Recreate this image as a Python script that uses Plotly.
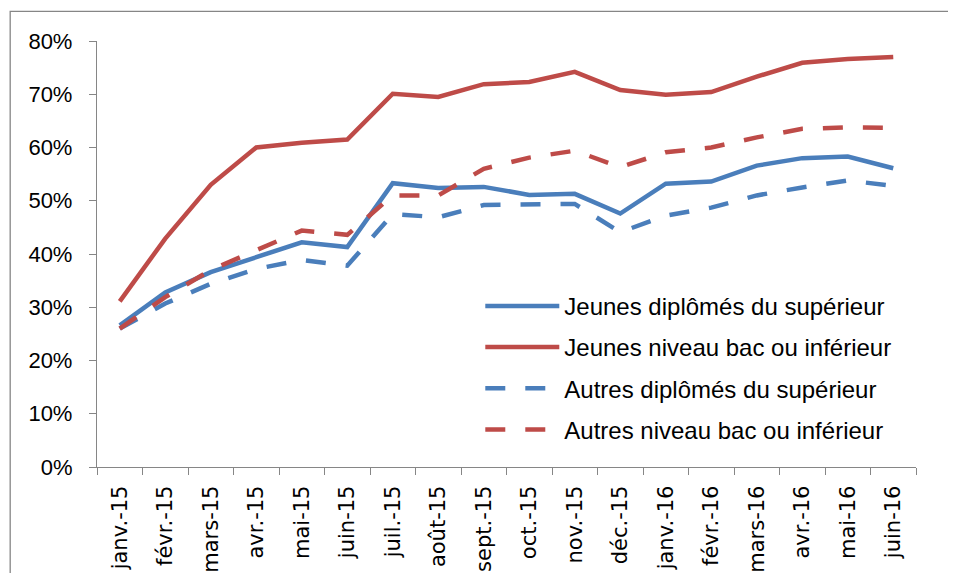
import plotly.graph_objects as go

months = ["janv.-15", "févr.-15", "mars-15", "avr.-15", "mai-15", "juin-15",
          "juil.-15", "août-15", "sept.-15", "oct.-15", "nov.-15", "déc.-15",
          "janv.-16", "févr.-16", "mars-16", "avr.-16", "mai-16", "juin-16"]

jeunes_sup = [0.266, 0.328, 0.366, 0.395, 0.422, 0.413, 0.533, 0.524, 0.526, 0.511,
              0.513, 0.476, 0.532, 0.536, 0.566, 0.580, 0.583, 0.561]
jeunes_bac = [0.311, 0.429, 0.530, 0.600, 0.609, 0.615, 0.701, 0.695, 0.719, 0.723,
              0.742, 0.708, 0.699, 0.704, 0.733, 0.759, 0.766, 0.770]
autres_sup = [0.260, 0.307, 0.344, 0.372, 0.389, 0.378, 0.475, 0.469, 0.492, 0.492,
              0.494, 0.441, 0.472, 0.487, 0.510, 0.525, 0.538, 0.528]
autres_bac = [0.260, 0.319, 0.370, 0.407, 0.444, 0.436, 0.510, 0.510, 0.560, 0.581,
              0.594, 0.563, 0.591, 0.600, 0.619, 0.635, 0.638, 0.637]

y_ticks = [0, 0.1, 0.2, 0.3, 0.4, 0.5, 0.6, 0.7, 0.8]

BLUE = "#4A7EBB"
RED = "#BE4B48"
DASH = "20px,20px"

series = [
    ("Jeunes diplômés du supérieur", jeunes_sup, BLUE, "solid"),
    ("Jeunes niveau bac ou inférieur", jeunes_bac, RED, "solid"),
    ("Autres diplômés du supérieur", autres_sup, BLUE, DASH),
    ("Autres niveau bac ou inférieur", autres_bac, RED, DASH),
]

fig = go.Figure()
for i, (name, vals, col, dash) in enumerate(series):
    fig.add_trace(go.Scatter(
        x=months, y=vals, name=name, mode="lines",
        line=dict(color=col, width=4.5, dash=dash),
        legendgroup=f"g{i}",
    ))

axis_col = "#868686"
fig.update_layout(
    width=940, height=565,
    margin=dict(l=89, r=32, t=33, b=106),
    paper_bgcolor="white", plot_bgcolor="white",
    font=dict(family="Liberation Sans, Arial, sans-serif", color="black"),
    showlegend=True,
    legend=dict(
        x=0.468, y=0.43, xanchor="left", yanchor="top",
        font=dict(size=24, family="Liberation Sans, Arial, sans-serif"),
        bgcolor="rgba(0,0,0,0)", itemwidth=74,
        tracegroupgap=7, traceorder="grouped",
    ),
    xaxis=dict(
        type="category", tickangle=-90, tickson="boundaries",
        ticks="outside", ticklen=7, tickcolor=axis_col,
        showline=True, linecolor=axis_col, linewidth=1.3,
        showgrid=False, zeroline=False, automargin=False,
        tickfont=dict(size=21, family="DejaVu Sans, sans-serif"),
        ticklabelstandoff=9,
        range=[-0.5, len(months) - 0.5],
    ),
    yaxis=dict(
        range=[0, 0.8], tickvals=y_ticks, tickformat=".0%",
        ticks="outside", ticklen=7, tickcolor=axis_col,
        showline=True, linecolor=axis_col, linewidth=1.3,
        showgrid=False, zeroline=False, automargin=False,
        tickfont=dict(size=22),
        ticklabelstandoff=12,
    ),
    shapes=[dict(
        type="rect", xref="paper", yref="paper",
        x0=-0.106, x1=1.3, y0=-0.5, y1=1.0697,
        line=dict(color=axis_col, width=1.3), fillcolor="rgba(0,0,0,0)",
        layer="below",
    )],
)

fig.write_html("out.html")
